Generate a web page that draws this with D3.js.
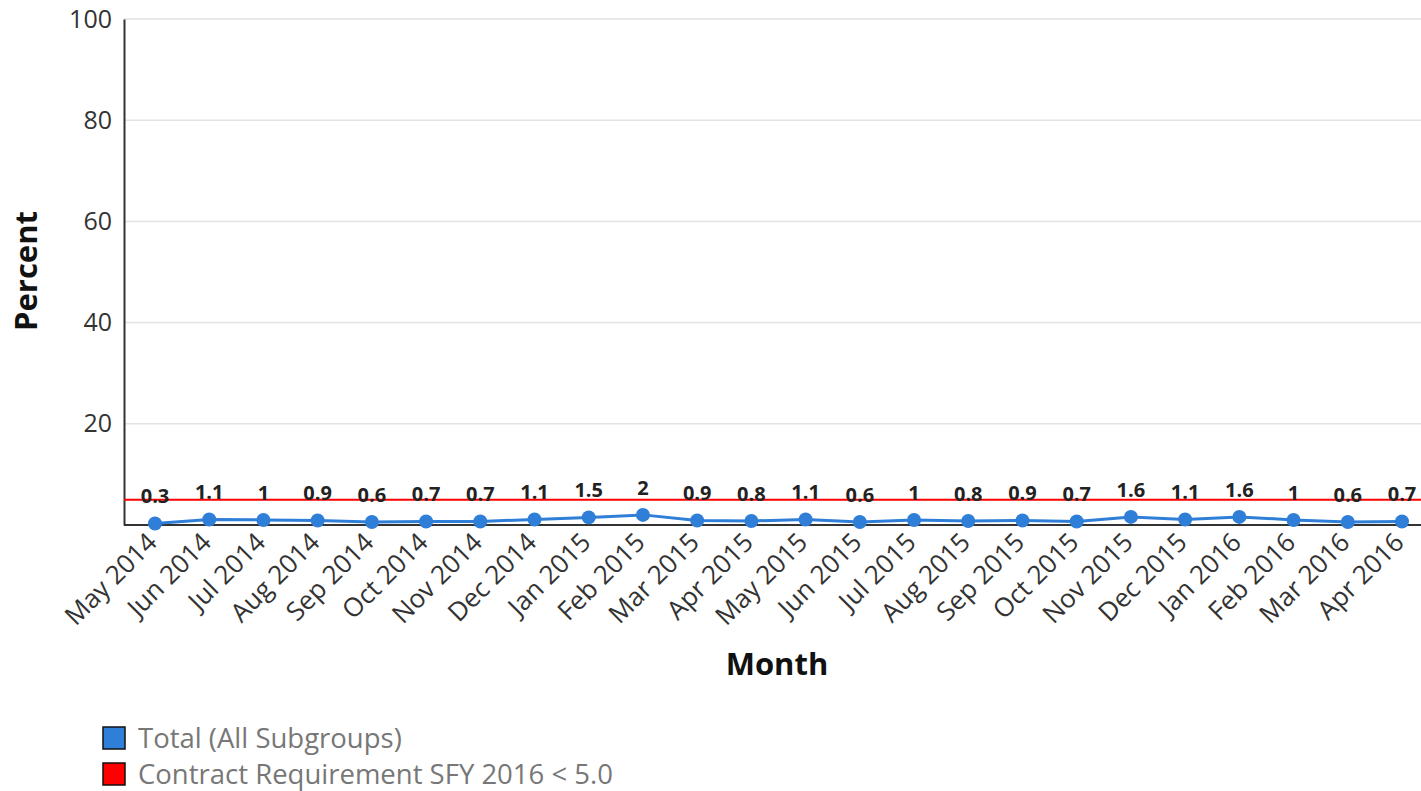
<!DOCTYPE html>
<html>
<head>
<meta charset="utf-8">
<script src="https://cdn.jsdelivr.net/npm/d3@7"></script>
<style>
  html, body { margin: 0; padding: 0; background: #fff; }
  svg { display: block; font-family: "Open Sans", "Noto Sans", sans-serif; }
</style>
</head>
<body>
<svg id="chart" width="1421" height="791"></svg>
<script>
// Monthly percentage, Total (All Subgroups)
const months = ["May 2014","Jun 2014","Jul 2014","Aug 2014","Sep 2014","Oct 2014","Nov 2014","Dec 2014",
  "Jan 2015","Feb 2015","Mar 2015","Apr 2015","May 2015","Jun 2015","Jul 2015","Aug 2015","Sep 2015",
  "Oct 2015","Nov 2015","Dec 2015","Jan 2016","Feb 2016","Mar 2016","Apr 2016"];
const totalValues = [0.3,1.1,1,0.9,0.6,0.7,0.7,1.1,1.5,2,0.9,0.8,1.1,0.6,1,0.8,0.9,0.7,1.6,1.1,1.6,1,0.6,0.7];
const requirement = 5.0;
const yTicks = [20, 40, 60, 80, 100];
const legendItems = ["Total (All Subgroups)", "Contract Requirement SFY 2016 < 5.0"];
const legendColors = ["#2f7ed8", "#ff0000"];

const svg = d3.select("#chart");
const plotLeft = 124, plotRight = 1421, plotTop = 19, plotBottom = 525;

const x = d3.scalePoint().domain(months).range([155, 1402]);
const y = d3.scaleLinear().domain([0, 100]).range([plotBottom, plotTop]);

// gridlines
svg.append("g").selectAll("line").data(yTicks).join("line")
  .attr("x1", plotLeft).attr("x2", plotRight)
  .attr("y1", d => y(d)).attr("y2", d => y(d))
  .attr("stroke", "#e3e3e3").attr("stroke-width", 1.5);

// y axis
const yAxis = svg.append("g").attr("transform", `translate(${plotLeft},0)`)
  .call(d3.axisLeft(y).tickValues(yTicks).tickSize(0).tickPadding(12));
yAxis.select(".domain").attr("stroke", "#333").attr("stroke-width", 2);
yAxis.selectAll("text").attr("font-size", 25).attr("fill", "#333")
  .attr("font-family", "\"Open Sans\", sans-serif");

// x axis
const xAxis = svg.append("g").attr("transform", `translate(0,${plotBottom})`)
  .call(d3.axisBottom(x).tickSize(0).tickPadding(0));
xAxis.select(".domain").attr("d", `M${plotLeft},0H${plotRight}`).attr("stroke", "#333").attr("stroke-width", 2);
xAxis.selectAll("text")
  .attr("font-size", 26).attr("fill", "#333")
  .attr("font-family", "\"Open Sans\", sans-serif")
  .attr("text-anchor", "end")
  .attr("dy", null)
  .attr("transform", "translate(3,19) rotate(-45)");

// requirement line
svg.append("line")
  .attr("x1", plotLeft).attr("x2", plotRight)
  .attr("y1", y(requirement)).attr("y2", y(requirement))
  .attr("stroke", "#ff0000").attr("stroke-width", 2);

// series line
const line = d3.line().x((d, i) => x(months[i])).y(d => y(d));
svg.append("path").datum(totalValues)
  .attr("d", line).attr("fill", "none")
  .attr("stroke", "#2f7ed8").attr("stroke-width", 3);

svg.append("g").selectAll("circle").data(totalValues).join("circle")
  .attr("cx", (d, i) => x(months[i])).attr("cy", d => y(d))
  .attr("r", 7).attr("fill", "#2f7ed8");

// data labels
svg.append("g").selectAll("text").data(totalValues).join("text")
  .attr("x", (d, i) => x(months[i])).attr("y", d => y(d) - 20)
  .attr("text-anchor", "middle")
  .attr("font-size", 20).attr("font-weight", "bold").attr("fill", "#222")
  .text(d => d);

// axis titles
svg.append("text")
  .attr("x", 777).attr("y", 675)
  .attr("text-anchor", "middle")
  .attr("font-size", 31).attr("font-weight", "bold").attr("fill", "#111")
  .text("Month");
svg.append("text")
  .attr("transform", "translate(37,271) rotate(-90)")
  .attr("text-anchor", "middle")
  .attr("font-size", 31).attr("font-weight", "bold").attr("fill", "#111")
  .text("Percent");

// legend
const legend = svg.append("g").selectAll("g").data(legendItems).join("g")
  .attr("transform", (d, i) => `translate(103,${727 + i * 36})`);
legend.append("rect")
  .attr("width", 22).attr("height", 22)
  .attr("fill", (d, i) => legendColors[i])
  .attr("stroke", "#111").attr("stroke-width", 1.5);
legend.append("text")
  .attr("x", 35).attr("y", 21)
  .attr("font-size", 27.5).attr("fill", "#777")
  .text(d => d);
</script>
</body>
</html>
